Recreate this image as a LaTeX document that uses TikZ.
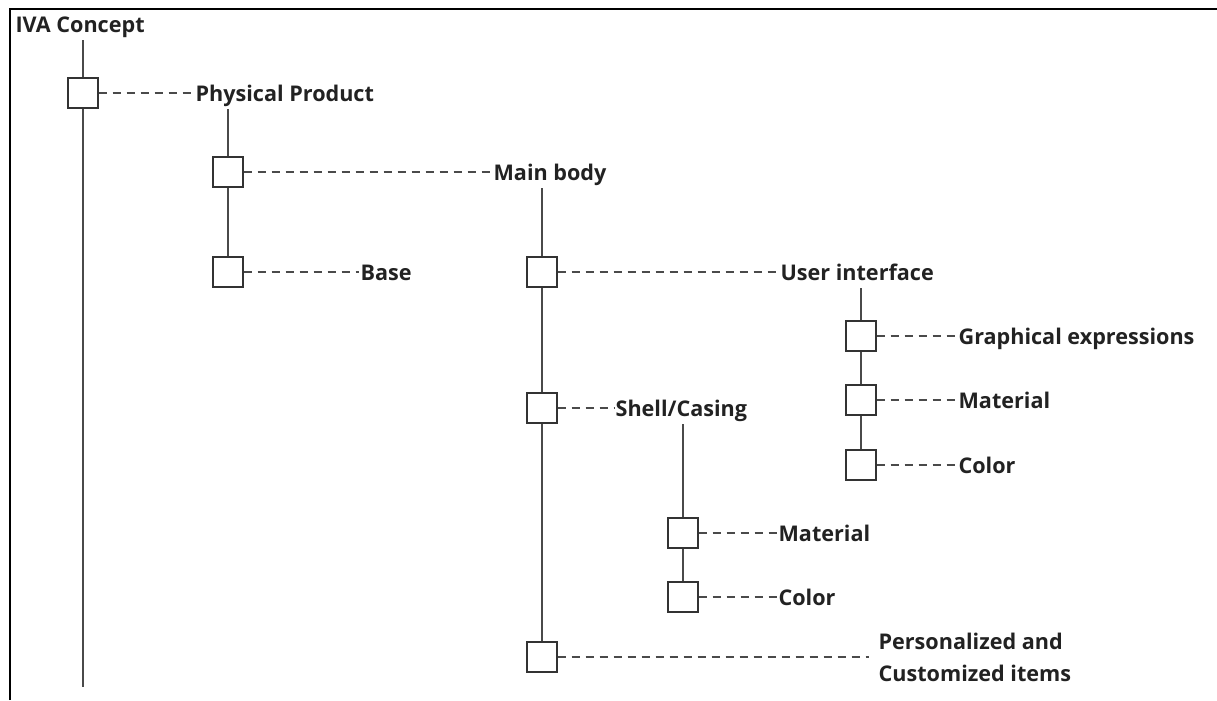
\documentclass[tikz,border=0pt]{standalone}
\usepackage{fontspec}
\setmainfont{Open Sans}
\definecolor{txt}{HTML}{222222}
\definecolor{boxc}{HTML}{333333}
\definecolor{linec}{HTML}{4A4A4A}
\begin{document}
\begin{tikzpicture}[x=0.75pt,y=-0.75pt,
  box/.style={draw=boxc, line width=1.4pt, fill=white, minimum size=22pt, inner sep=0pt},
  lbl/.style={font=\fontsize{16.2}{22.5}\selectfont\bfseries, text=txt, anchor=base west,
              inner xsep=1pt, inner ysep=6pt, text depth=0pt},
  lbltwo/.style={font=\fontsize{16.2}{24}\selectfont\bfseries, text=txt, anchor=west,
              align=left, inner xsep=1pt, inner ysep=0pt},
  stem/.style={draw=linec, line width=1.1pt},
  leader/.style={draw=linec, line width=1.1pt, dash pattern=on 6pt off 4.5pt}]

% canvas and frame
\useasboundingbox (0,0) rectangle (1217,700);
\fill[white] (0,0) rectangle (1217,700);
\draw[black, line width=1.9pt] (10,700) -- (10,9) -- (1217,9);

% labels
\node[lbl] (iva)  at (14,32)  {IVA Concept};
\node[lbl] (pp)   at (194,101) {Physical Product};
\node[lbl] (mb)   at (492,180) {Main body};
\node[lbl] (base) at (359,280) {Base};
\node[lbl] (ui)   at (779,280) {User interface};
\node[lbl] (sc)   at (614,416) {Shell/Casing};
\node[lbl] (ge)   at (957,344) {Graphical expressions};
\node[lbl] (mat1) at (957,408) {Material};
\node[lbl] (col1) at (957,473) {Color};
\node[lbl] (mat2) at (777,541) {Material};
\node[lbl] (col2) at (777,605) {Color};
\node[lbltwo] (pers) at (877,657) {Personalized and\\Customized items};

% boxes
\node[box] (b1)  at (83,93)   {};
\node[box] (b2)  at (228,172) {};
\node[box] (b3)  at (228,272) {};
\node[box] (b4)  at (542,272) {};
\node[box] (b5)  at (542,408) {};
\node[box] (b6)  at (542,657) {};
\node[box] (b7)  at (683,533) {};
\node[box] (b8)  at (683,597) {};
\node[box] (b9)  at (861,336) {};
\node[box] (b10) at (861,400) {};
\node[box] (b11) at (861,465) {};
\coordinate (mainend) at (83,687);

% solid stems
\draw[stem] (iva.south -| b1.north) -- (b1.north);
\draw[stem] (b1.south) -- (mainend);
\draw[stem] (pp.south -| b2.north) -- (b2.north);
\draw[stem] (b2.south) -- (b3.north);
\draw[stem] (mb.south -| b4.north) -- (b4.north);
\draw[stem] (b4.south) -- (b5.north);
\draw[stem] (b5.south) -- (b6.north);
\draw[stem] (ui.south -| b9.north) -- (b9.north);
\draw[stem] (b9.south) -- (b10.north);
\draw[stem] (b10.south) -- (b11.north);
\draw[stem] (sc.south -| b7.north) -- (b7.north);
\draw[stem] (b7.south) -- (b8.north);

% dashed leaders
\draw[leader] (b1.east) -- (b1.east -| pp.west);
\draw[leader] (b2.east) -- (b2.east -| mb.west);
\draw[leader] (b3.east) -- (b3.east -| base.west);
\draw[leader] (b4.east) -- (b4.east -| ui.west);
\draw[leader] (b5.east) -- (b5.east -| sc.west);
\draw[leader] (b6.east) -- ([xshift=-6pt]b6.east -| pers.west);
\draw[leader] (b7.east) -- (b7.east -| mat2.west);
\draw[leader] (b8.east) -- (b8.east -| col2.west);
\draw[leader] (b9.east) -- (b9.east -| ge.west);
\draw[leader] (b10.east) -- (b10.east -| mat1.west);
\draw[leader] (b11.east) -- (b11.east -| col1.west);
\end{tikzpicture}
\end{document}
